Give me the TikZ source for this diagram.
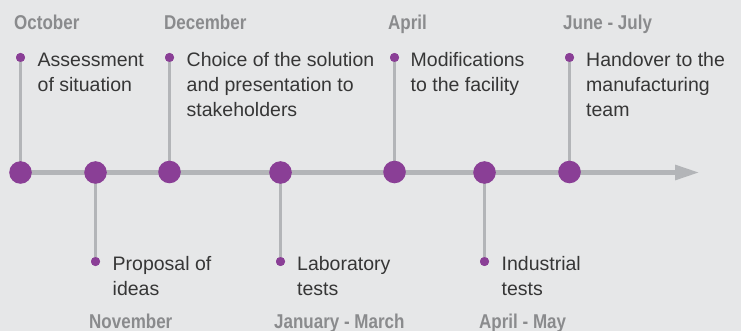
\documentclass[tikz,border=0pt]{standalone}
\usepackage{fontspec}
\setmainfont{Liberation Sans}
\usepackage{graphicx}
\usetikzlibrary{arrows.meta}
\definecolor{bgc}{HTML}{E6E7E8}
\definecolor{linec}{HTML}{B3B5B8}
\definecolor{purp}{HTML}{8A3F96}
\definecolor{txtc}{HTML}{363636}
\definecolor{monthc}{HTML}{8A8B8D}
\tikzset{
  bigdot/.style={circle,fill=purp,inner sep=0pt,minimum size=22.6pt},
  smalldot/.style={circle,fill=purp,inner sep=0pt,minimum size=9pt},
  stem/.style={draw=linec,line width=2.6pt},
  evtext/.style={anchor=base west,inner sep=0pt,align=left,text=txtc,font=\fontsize{19.5}{25}\selectfont},
  month/.style={anchor=base west,inner sep=0pt,text=monthc,font=\fontsize{20}{24}\selectfont\bfseries}
}
\newcommand{\mlabel}[1]{\scalebox{0.85}[1]{#1}}
\begin{document}
\begin{tikzpicture}[x=1pt,y=-1pt]
\fill[bgc] (0,0) rectangle (741,331);
\useasboundingbox (0,0) rectangle (741,331);
% small dots
\node[smalldot] (s1) at (20.5,57.5) {};
\node[smalldot] (s2) at (95.5,261.5) {};
\node[smalldot] (s3) at (169.5,57.5) {};
\node[smalldot] (s4) at (280.5,261.5) {};
\node[smalldot] (s5) at (394.5,57.5) {};
\node[smalldot] (s6) at (484.5,261.5) {};
\node[smalldot] (s7) at (569.5,57.5) {};
\coordinate (tip) at (700,172.5);
% axis and stems (drawn first, dots on top)
\coordinate (a1) at (20.5,172.5);
\draw[draw=linec,line width=5.5pt,-{Triangle[length=25pt,width=14pt]}] (a1) -- (tip);
\foreach \i/\x/\y in {1/20.5/172.5,2/95.5/172.5,3/169.5/172,4/280.5/172.5,5/394.5/172,6/484.5/172.5,7/569.5/172}{
  \coordinate (c\i) at (\x,\y);
  \draw[stem] (s\i.center) -- (c\i);
}
% dots on axis
\node[bigdot] (b1) at (c1) {};
\node[bigdot] (b2) at (c2) {};
\node[bigdot] (b3) at (c3) {};
\node[bigdot] (b4) at (c4) {};
\node[bigdot] (b5) at (c5) {};
\node[bigdot] (b6) at (c6) {};
\node[bigdot] (b7) at (c7) {};
% redraw small dots on top of stems
\foreach \i in {1,...,7}{\fill[purp] (s\i.center) circle (4.5pt);}
% months
\node[month] (m1) at (14,30) {\mlabel{October}};
\node[month] (m2) at (89,328) {\mlabel{November}};
\node[month] (m3) at (164,30) {\mlabel{December}};
\node[month] (m4) at (274,328) {\mlabel{January - March}};
\node[month] (m5) at (388,30) {\mlabel{April}};
\node[month] (m6) at (479,328) {\mlabel{April - May}};
\node[month] (m7) at (563,30) {\mlabel{June - July}};
% texts (base anchor = last line's baseline)
\node[evtext] (t1) at (37.5,92) {Assessment\\of situation};
\node[evtext] (t2) at (112.5,295.5) {Proposal of\\ideas};
\node[evtext] (t3) at (186.5,117) {Choice of the solution\\and presentation to\\stakeholders};
\node[evtext] (t4) at (297,295.5) {Laboratory\\tests};
\node[evtext] (t5) at (410.5,92) {Modifications\\to the facility};
\node[evtext] (t6) at (501.5,295.5) {Industrial\\tests};
\node[evtext] (t7) at (586,117) {Handover to the\\manufacturing\\team};
\end{tikzpicture}
\end{document}
